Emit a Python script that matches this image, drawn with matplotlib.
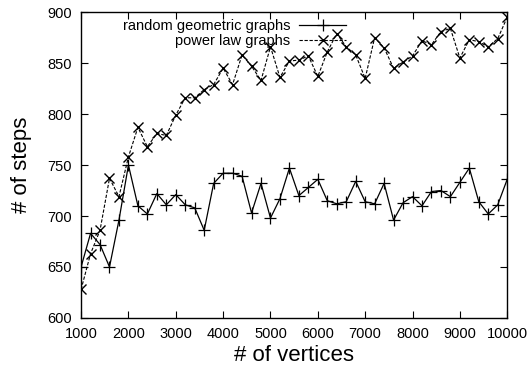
import numpy as np
import matplotlib.pyplot as plt

plt.rcParams['font.family'] = ['Liberation Sans', 'DejaVu Sans']

vertices = np.arange(1000, 10001, 200)

random_geometric = [650, 683, 672, 650, 696, 750, 710, 702, 722, 711,
                    721, 711, 708, 686, 732, 742, 742, 739, 703, 732,
                    698, 717, 747, 720, 728, 736, 715, 712, 714, 734,
                    714, 712, 732, 696, 713, 719, 710, 724, 725, 719,
                    733, 747, 714, 702, 711, 736]

power_law = [628, 663, 686, 737, 719, 758, 787, 768, 781, 779,
             799, 816, 816, 824, 829, 845, 829, 858, 847, 833,
             866, 836, 852, 853, 857, 837, 861, 879, 866, 858,
             835, 875, 865, 845, 851, 857, 872, 868, 881, 884,
             855, 873, 871, 866, 874, 895]

fig = plt.figure(figsize=(5.3, 3.68), dpi=100)
ax = fig.add_axes([0.153, 0.136, 0.804, 0.831])

ax.plot(vertices, random_geometric, 'k-', marker='+', markersize=8,
        linewidth=0.9, markeredgewidth=0.9, label="random geometric graphs")
ax.plot(vertices, power_law, 'k--', marker='x', markersize=6.5,
        linewidth=0.8, markeredgewidth=1.0, dashes=(3, 1.5),
        label="power law graphs")

ax.set_xlim(1000, 10000)
ax.set_ylim(600, 900)
ax.set_xticks(np.arange(1000, 10001, 1000))
ax.set_yticks(np.arange(600, 901, 50))
ax.tick_params(direction='in', top=True, right=True, labelsize=10.5,
               length=5, pad=6.5)
for s in ax.spines.values():
    s.set_linewidth(1.0)

ax.set_xlabel("# of vertices", fontsize=16, labelpad=3)
ax.set_ylabel("# of steps", fontsize=16, labelpad=11)

ax.legend(loc='upper center', bbox_to_anchor=(0.36, 1.02), frameon=False,
          markerfirst=False, fontsize=10.5, handlelength=3.2,
          labelspacing=0.05, handletextpad=0.6)

plt.savefig("out.png")
